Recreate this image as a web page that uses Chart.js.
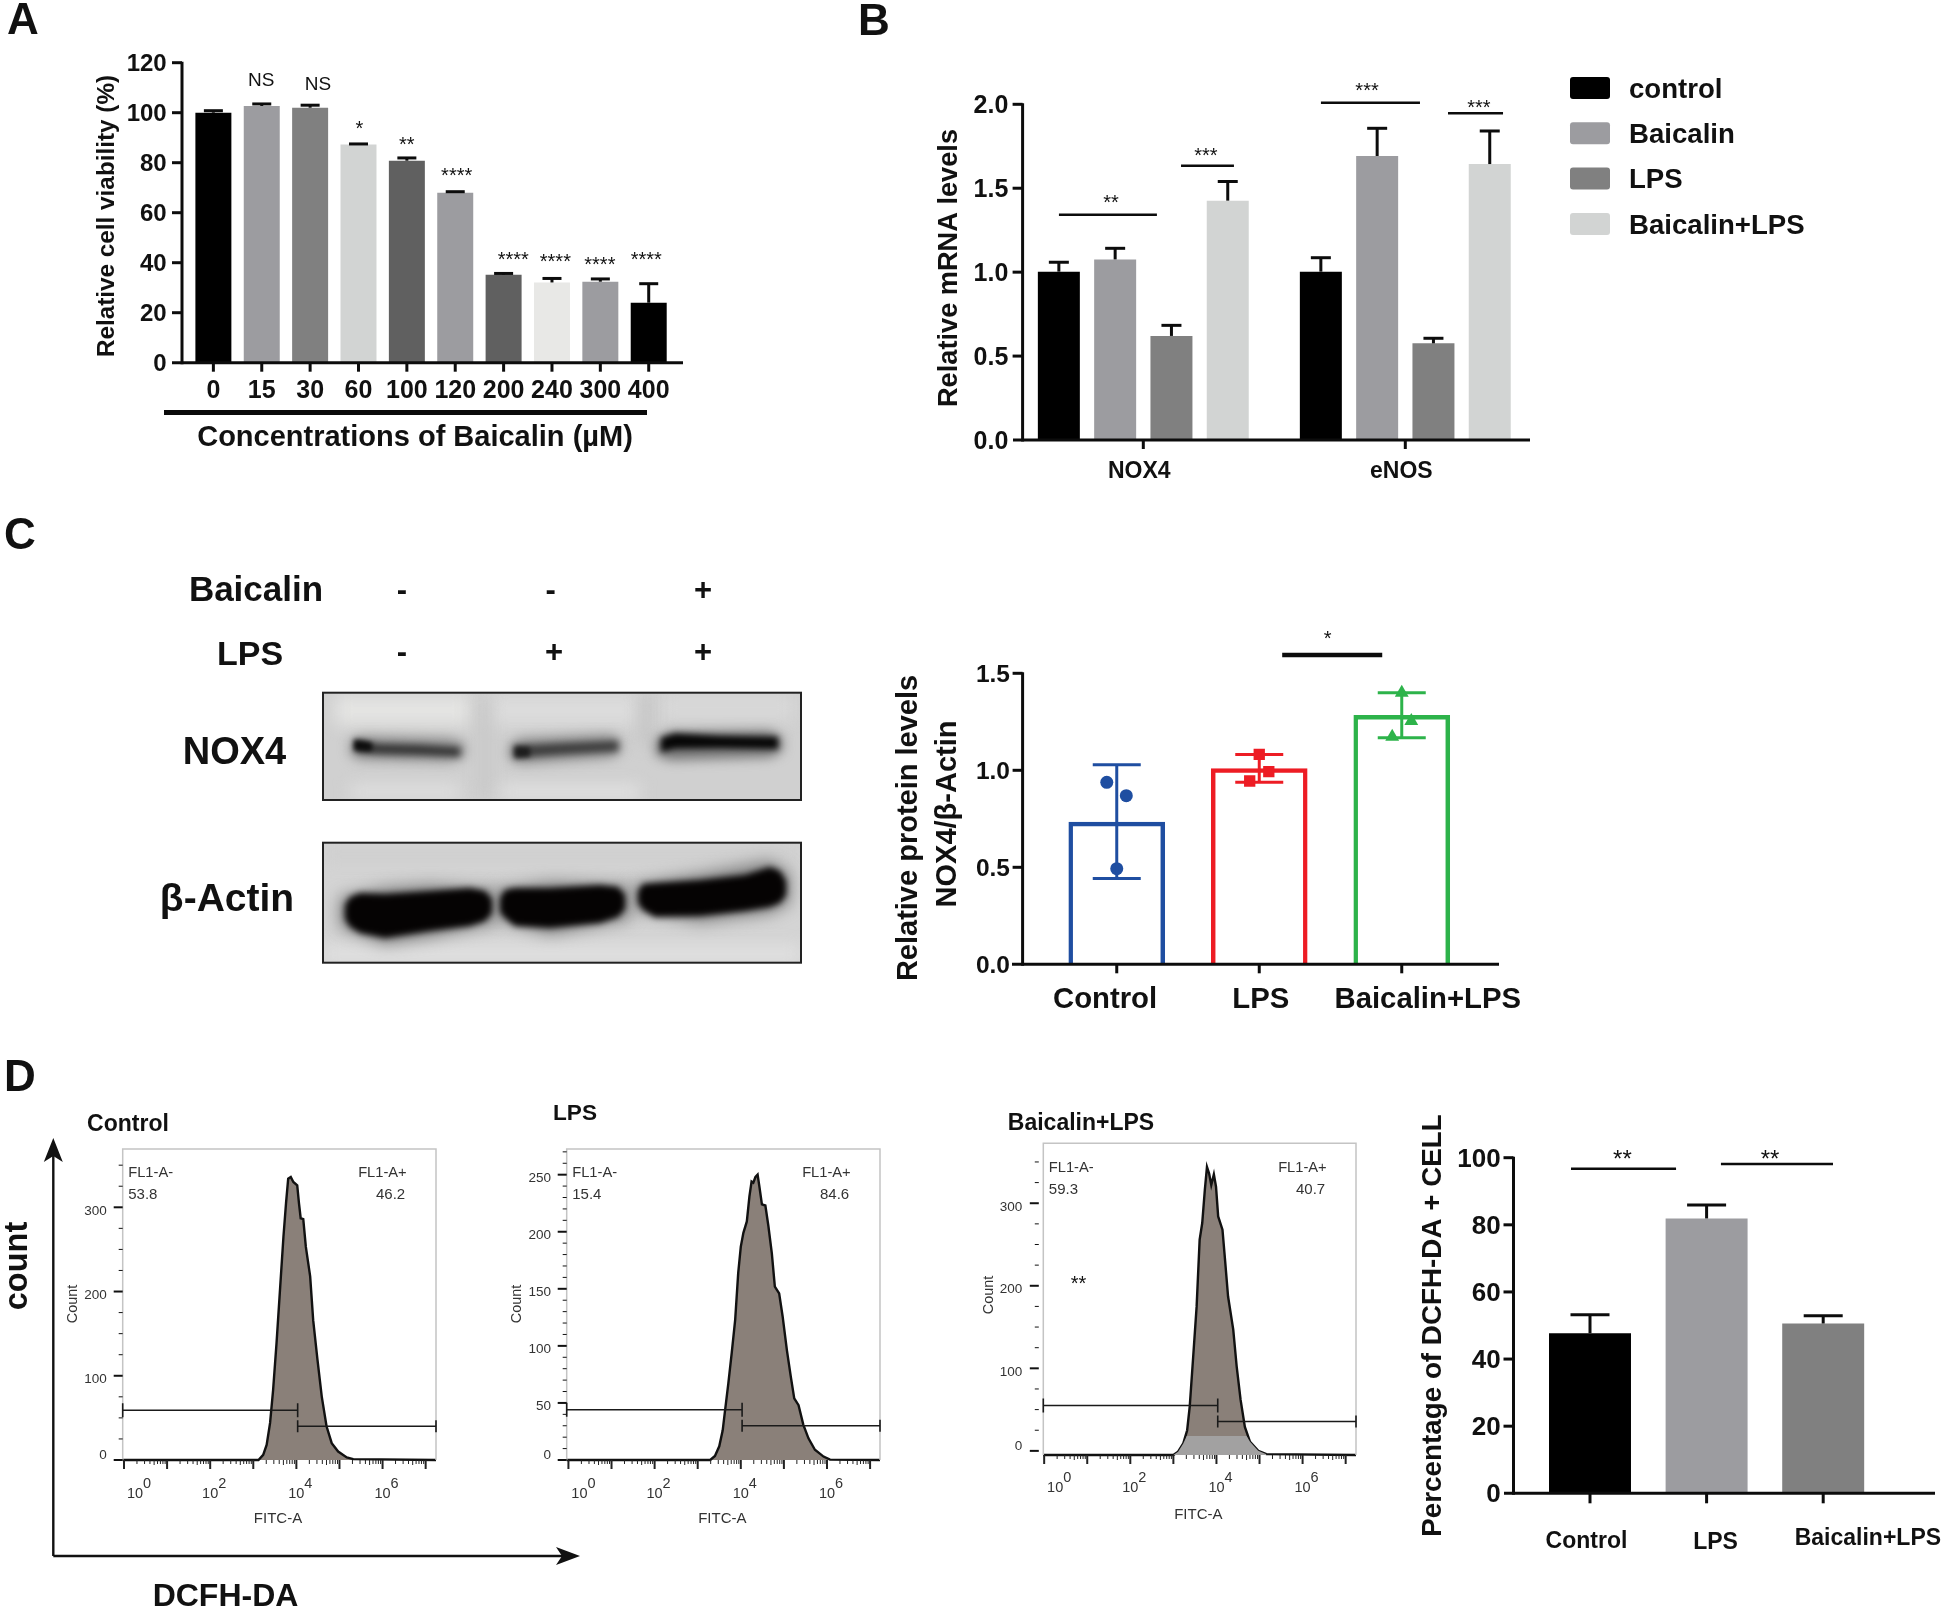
<!DOCTYPE html>
<html><head><meta charset="utf-8">
<script src="https://cdn.jsdelivr.net/npm/chart.js@4"></script>
<style>
html,body{margin:0;padding:0;background:#fff;width:1944px;height:1609px;overflow:hidden}
#fig{position:absolute;left:0;top:0;width:1944px;height:1609px;filter:blur(0.5px)}
#fig canvas{position:absolute;left:0;top:0;pointer-events:none}
.t{position:absolute;white-space:nowrap;line-height:1;color:#111;font-family:"Liberation Sans",Arial,sans-serif;font-weight:bold}
</style></head><body><div id="fig"><canvas id="base" width="1944" height="1609"></canvas></div>
<script>
// ---------- Panel A ----------
const concLabels = ['0','15','30','60','100','120','200','240','300','400'];
const viability = [100,102.7,102,87.3,80.8,68,35.2,32.1,32.4,24];
const viabilityHi = [100.8,103.5,103,87.5,81.9,68.4,35.7,33.7,33.5,31.6];
const viabilityColors = ['#000000','#9c9ca0','#808080','#d2d4d3','#606060','#9c9ca0','#606060','#e8e8e6','#9c9ca0','#000000'];
const viabilitySig = ['','NS','NS','*','**','****','****','****','****','****'];
const viabilitySigIdx = [0,0.99,2.16,3.02,4,5.03,6.2,7.07,7.99,8.95];
const viabilitySigVal = [0,113.3,112,95,88.4,76.3,42.7,41.8,40.7,42.4];
// ---------- Panel B ----------
const geneLabels = ['NOX4','eNOS'];
const groupNames = ['control','Baicalin','LPS','Baicalin+LPS'];
const groupColors = ['#000000','#9c9ca0','#808080','#d2d4d3'];
const mrnaControl = [1.003,1.003];
const mrnaBaicalin = [1.076,1.692];
const mrnaLPS = [0.62,0.576];
const mrnaBoth = [1.426,1.644];
const mrnaControlHi = [1.059,1.086];
const mrnaBaicalinHi = [1.142,1.857];
const mrnaLPSHi = [0.683,0.606];
const mrnaBothHi = [1.54,1.841];
const mrnaSigLines = [[-0.322,0.052,1.342],[0.144,0.346,1.634],[0.678,1.056,2.009],[1.163,1.373,1.946]];
const mrnaSigStars = [['**',-0.123,1.436],['***',0.239,1.716],['***',0.854,2.099],['***',1.281,2.002]];
// ---------- Panel C ----------
const proteinLabels = ['Control','LPS','Baicalin+LPS'];
const proteinMean = [0.735,1.01,1.285];
const proteinHi = [1.029,1.081,1.40];
const proteinLo = [0.442,0.938,1.168];
const proteinColors = ['#1f4ea1','#ed1c24','#2db34a'];
const proteinPtsControl = [[-0.07,0.938],[0.067,0.869],[0,0.493]];
const proteinPtsLPS = [[1,1.082],[1.067,0.993],[0.933,0.945]];
const proteinPtsBoth = [[2,1.40],[2.067,1.254],[1.933,1.173]];
const proteinSigLines = [[1.161,1.863,1.594]];
const proteinSigStars = [['*',1.48,1.697]];
// ---------- Panel D histograms (log10 FITC-A, count) ----------
const controlX = [-0.03,3.12,3.23,3.31,3.39,3.46,3.54,3.62,3.70,3.76,3.81,3.87,3.93,4.02,4.06,4.10,4.16,4.22,4.32,4.39,4.49,4.59,4.70,4.82,4.97,5.17,5.32,7.24];
const controlY = [0,0,6,18,44,83,139,202,265,305,334,336,330,326,305,287,286,253,218,166,119,75,40,20,10,3,1,0];
const lpsX = [-0.04,3.29,3.40,3.50,3.58,3.63,3.71,3.79,3.87,3.94,4.00,4.06,4.14,4.20,4.25,4.29,4.34,4.39,4.43,4.49,4.57,4.64,4.72,4.79,4.89,4.97,5.07,5.16,5.24,5.34,5.45,5.57,5.72,5.92,6.07,7.23];
const lpsY = [0,0,3.5,12,26,42,67,94,123,164,187,199,209,231,244,243,248,250,240,224,223,205,181,152,146,126,96,73,54,48,31,19,9,3,0.3,0];
const bothX = [-0.02,3.00,3.11,3.23,3.32,3.38,3.46,3.54,3.61,3.67,3.73,3.78,3.83,3.88,3.94,3.99,4.04,4.14,4.20,4.27,4.39,4.47,4.56,4.66,4.78,4.97,5.16,7.24];
const bothY = [-5,-5,-1,9,25,54,114,175,256,276,316,344,336,322,335,320,284,268,231,187,147,102,62,29,11,0,-4,-5];
const bothBandX = [3.00,3.11,3.23,3.31,4.70,4.78,4.97,5.16];
const bothBandY = [-5,-1,9,18,18,11,0,-4];
const gateControl = [59,40];
const gateLPS = [44,30];
const gateBoth = [55,35.5];
const gateSplit = 4.03;
const decadeLabels = [0,2,4,6];
// ---------- Panel D bars ----------
const dcfhLabels = ['Control','LPS','Baicalin+LPS'];
const dcfhMean = [47.7,81.9,50.6];
const dcfhHi = [53.2,85.9,52.9];
const dcfhColors = ['#000000','#9c9ca0','#808080'];
const dcfhSigLines = [[-0.163,0.738,96.7],[1.123,2.084,98.1]];
const dcfhSigStars = [['**',0.278,100.6],['**',1.544,100.6]];

const FF = '"Liberation Sans",Arial,sans-serif';
const W = 1944, H = 1609;
const fig = document.getElementById('fig');
Chart.defaults.font.family = FF;
Chart.defaults.color = '#111';

function txt(s, cx, cy, size, opt){
  opt = opt || {};
  const d = document.createElement('div');
  d.className = 't'; d.textContent = s;
  d.style.left = cx + 'px'; d.style.top = cy + 'px';
  d.style.fontSize = size + 'px';
  if (opt.weight) d.style.fontWeight = opt.weight;
  d.style.transform = 'translate(-50%,-50%)' + (opt.rot ? ' rotate(' + opt.rot + 'deg)' : '');
  fig.appendChild(d);
}

function newCanvas(){
  const c = document.createElement('canvas');
  c.width = W; c.height = H;
  fig.appendChild(c);
  return c.getContext('2d');
}

// Lays the plot area out in page pixels
function frameScales(area){
  return {
    fitY: s => { s.width = area.l; },
    fitX: s => { s.height = H - area.b; },
    padding: {left:0, top:area.t, right:W - area.r, bottom:0}
  };
}

// Axis lines, ticks, significance marks, error bars, free labels
const figPlugin = {
  id:'figPlugin',
  afterDraw(chart){
    const o = chart.options.plugins.figPlugin; if (!o) return;
    const ctx = chart.ctx, x = chart.scales.x, y = chart.scales.y;
    ctx.save();
    ctx.strokeStyle = '#0c0c0c'; ctx.fillStyle = '#111'; ctx.lineCap = 'butt';
    // error bars
    (o.err || []).forEach(e => {
      const meta = chart.getDatasetMeta(e.ds);
      ctx.lineWidth = e.w || 3;
      meta.data.forEach((bar, i) => {
        const col = Array.isArray(e.color) ? e.color[i] : e.color;
        ctx.strokeStyle = col || '#0c0c0c';
        const px = bar.x, hi = y.getPixelForValue(e.hi[i]);
        const lo = e.lo ? y.getPixelForValue(e.lo[i]) : y.getPixelForValue(chart.data.datasets[e.ds].data[i]);
        ctx.beginPath(); ctx.moveTo(px, lo); ctx.lineTo(px, hi); ctx.stroke();
        ctx.beginPath(); ctx.moveTo(px - e.cap, hi); ctx.lineTo(px + e.cap, hi); ctx.stroke();
        if (e.lo){ ctx.beginPath(); ctx.moveTo(px - e.cap, lo); ctx.lineTo(px + e.cap, lo); ctx.stroke(); }
      });
    });
    ctx.strokeStyle = '#0c0c0c'; ctx.lineWidth = o.axisW;
    // axes
    ctx.beginPath(); ctx.moveTo(o.axisX, y.top - 1); ctx.lineTo(o.axisX, y.bottom + o.axisW/2); ctx.stroke();
    ctx.beginPath(); ctx.moveTo(o.xFrom, y.bottom); ctx.lineTo(o.xTo, y.bottom); ctx.stroke();
    y.ticks.forEach(t => {
      const p = y.getPixelForValue(t.value);
      if (Math.abs(p - y.bottom) < 1) return;
      ctx.beginPath(); ctx.moveTo(o.axisX - o.yTick, p); ctx.lineTo(o.axisX, p); ctx.stroke();
    });
    x.ticks.forEach((t, i) => {
      const p = x.getPixelForTick(i);
      ctx.beginPath(); ctx.moveTo(p, y.bottom); ctx.lineTo(p, y.bottom + o.xTick); ctx.stroke();
    });
    // significance lines
    (o.sigLines || []).forEach(s => {
      ctx.lineWidth = o.sigW;
      ctx.beginPath();
      const py = y.getPixelForValue(s[2]);
      ctx.moveTo(x.getPixelForValue(s[0]), py); ctx.lineTo(x.getPixelForValue(s[1]), py); ctx.stroke();
    });
    ctx.textAlign = 'center';
    (o.sigStars || []).forEach(s => {
      ctx.font = (s[3] || o.starSize) + 'px ' + FF;
      ctx.textBaseline = 'alphabetic';
      const isStar = s[0].charAt(0) === '*';
      const sz = s[3] || o.starSize;
      ctx.fillText(s[0], x.getPixelForValue(s[1]), y.getPixelForValue(s[2]) + (isStar ? 0.48 : 0.36) * sz);
    });
    // displaced category labels
    if (o.labels){
      ctx.font = 'bold ' + o.labelSize + 'px ' + FF; ctx.textBaseline = 'middle';
      o.labels.forEach((l, i) => ctx.fillText(l, x.getPixelForTick(i) + o.labelDx[i], o.labelY[i]));
    }
    // axis titles placed in page position
    (o.extra || []).forEach(e => {
      ctx.save(); ctx.translate(e.x, e.y); ctx.rotate(-Math.PI/2);
      ctx.font = 'bold ' + e.size + 'px ' + FF; ctx.textBaseline = 'middle';
      ctx.fillText(e.text, 0, 0); ctx.restore();
    });
    // legend
    if (o.legend){
      const L = o.legend;
      L.names.forEach((n, i) => {
        const cy = L.y + i * L.dy;
        ctx.fillStyle = L.colors[i];
        ctx.beginPath(); ctx.roundRect(L.x, cy - L.h/2, L.w, L.h, 3); ctx.fill();
        ctx.fillStyle = '#111'; ctx.textAlign = 'left'; ctx.textBaseline = 'middle';
        ctx.font = 'bold ' + L.size + 'px ' + FF;
        ctx.fillText(n, L.x + L.w + 19, cy + 2);
      });
      ctx.textAlign = 'center';
    }
    ctx.restore();
  }
};

function barChart(cfg){
  const f = frameScales(cfg.area);
  const scales = {
    x:{type:'category', grid:{display:false,drawTicks:false}, border:{display:false}, afterFit:f.fitX,
       ticks:{display:cfg.nativeX!==false, autoSkip:false, maxRotation:0, minRotation:0, padding:cfg.xPad||0, labelOffset:cfg.xOff||0,
              color:'#111', font:{size:cfg.xSize||23,weight:'bold'}}},
    y:{type:'linear', min:cfg.min||0, max:cfg.max, grid:{display:false,drawTicks:false}, border:{display:false}, afterFit:f.fitY,
       ticks:{stepSize:cfg.step, padding:cfg.yPad, labelOffset:2, color:'#111', font:{size:cfg.ySize,weight:'bold'},
              callback:v => cfg.dec ? v.toFixed(cfg.dec) : String(v)},
       title:cfg.title ? {display:true,text:cfg.title,color:'#111',font:{size:cfg.titleSize,weight:'bold',lineHeight:1},padding:{top:cfg.titleX-cfg.titleSize/2,bottom:0}} : {display:false}}
  };
  if (cfg.extraScales) Object.assign(scales, cfg.extraScales);
  new Chart(newCanvas(), {
    type:'bar',
    data:{labels:cfg.labels, datasets:cfg.datasets},
    options:{responsive:false, animation:false, devicePixelRatio:1,
      layout:{autoPadding:false,padding:f.padding},
      scales,
      plugins:{legend:{display:false},tooltip:{enabled:false},figPlugin:cfg.fig}
    },
    plugins:[figPlugin]
  });
}

// A
const sigAStars = viabilitySig.map((s,i)=>[s,viabilitySigIdx[i],viabilitySigVal[i],s==='NS'?19:20]).filter(s=>s[0]);
barChart({
  area:{l:189.2,t:62.7,r:672.9,b:362.7}, labels:concLabels, max:120, step:20, yPad:22.5, ySize:24, xPad:13, xSize:25,
  datasets:[{data:viability, backgroundColor:viabilityColors, barPercentage:0.744, categoryPercentage:1}],
  fig:{axisX:182,axisW:3,xFrom:172,xTo:683,yTick:10,xTick:9,starSize:20,sigStars:sigAStars,
       err:[{ds:0,hi:viabilityHi,cap:9.5,w:3}],
       extra:[{text:'Relative cell viability (%)',x:107,y:216,size:24.3}]}
});
// B
const mrnaSets = [mrnaControl,mrnaBaicalin,mrnaLPS,mrnaBoth];
const mrnaHi = [mrnaControlHi,mrnaBaicalinHi,mrnaLPSHi,mrnaBothHi];
barChart({
  area:{l:1012.3,t:104.3,r:1536.3,b:440}, labels:geneLabels, max:2, step:0.5, dec:1, yPad:4, ySize:25, xPad:18, xSize:23, xOff:-4,
  datasets:mrnaSets.map((d,i)=>({label:groupNames[i],data:d,backgroundColor:groupColors[i],barPercentage:0.746,categoryPercentage:0.8595})),
  fig:{axisX:1022.6,axisW:3,xFrom:1013,xTo:1530,yTick:10,xTick:9,sigW:2.5,starSize:20,
       sigLines:mrnaSigLines,sigStars:mrnaSigStars,
       err:mrnaHi.map((h,i)=>({ds:i,hi:h,cap:10,w:3})),
       extra:[{text:'Relative mRNA levels',x:950,y:268,size:27.2}],
       legend:{names:groupNames,colors:groupColors,x:1570,y:88,dy:45.3,w:40,h:22,size:27.6}}
});
// C
function pts(a){return a.map(p=>({x:p[0],y:p[1]}));}
const ptShapes = ['circle','rect','triangle'];
const ptRadius = [6.5,8,8];
barChart({
  area:{l:1045.5,t:673.3,r:1473,b:964.3}, labels:proteinLabels, nativeX:false, max:1.5, step:0.5, dec:1, yPad:35.5, ySize:24.5,
  datasets:[
    {type:'scatter',xAxisID:'xp',data:pts(proteinPtsControl),pointStyle:ptShapes[0],pointRadius:ptRadius[0],backgroundColor:proteinColors[0],borderWidth:0,order:0},
    {type:'scatter',xAxisID:'xp',data:pts(proteinPtsLPS),pointStyle:ptShapes[1],pointRadius:ptRadius[1],backgroundColor:proteinColors[1],borderWidth:0,order:0},
    {type:'scatter',xAxisID:'xp',data:pts(proteinPtsBoth),pointStyle:ptShapes[2],pointRadius:ptRadius[2],backgroundColor:proteinColors[2],borderWidth:0,order:0},
    {data:proteinMean,backgroundColor:'rgba(255,255,255,0)',borderColor:proteinColors,borderWidth:4.5,borderSkipped:'bottom',barPercentage:0.678,categoryPercentage:1,grouped:false,order:1}
  ],
  extraScales:{xp:{type:'linear',min:-0.5,max:2.5,offset:false,display:false}},
  fig:{axisX:1022.6,axisW:3,xFrom:1012,xTo:1499,yTick:10,xTick:9,sigW:4.5,starSize:20,
       sigLines:proteinSigLines,sigStars:proteinSigStars,
       err:[{ds:3,hi:proteinHi,lo:proteinLo,cap:24,w:3,color:proteinColors}],
       labels:proteinLabels,labelSize:29.3,labelDx:[-11.7,1.6,26],labelY:[1000,1000,1000],
       extra:[{text:'Relative protein levels',x:909,y:828,size:29},{text:'NOX4/\u03b2-Actin',x:948,y:814,size:29}]}
});
// D bars
barChart({
  area:{l:1531.7,t:1157.7,r:1881.5,b:1493.3}, labels:dcfhLabels, nativeX:false, max:100, step:20, yPad:31, ySize:26,
  title:'Percentage of DCFH-DA + CELL', titleSize:27.8, titleX:1433,
  datasets:[{data:dcfhMean,backgroundColor:dcfhColors,barPercentage:0.703,categoryPercentage:1}],
  fig:{axisX:1513.5,axisW:3,xFrom:1504,xTo:1935,yTick:10,xTick:10,sigW:2.5,starSize:24,
       sigLines:dcfhSigLines,sigStars:dcfhSigStars,
       err:[{ds:0,hi:dcfhHi,cap:19.5,w:3}],
       labels:dcfhLabels,labelSize:23,labelDx:[-3.5,9,44.7],labelY:[1541.5,1542.5,1539]}
});

// Flow histograms
const flowPlugin = {
  id:'flowPlugin',
  afterDraw(chart){
    const o = chart.options.plugins.flowPlugin;
    const ctx = chart.ctx, x = chart.scales.x, y = chart.scales.y, a = chart.chartArea;
    ctx.save();
    ctx.lineCap = 'butt';
    // frame
    ctx.strokeStyle = '#c4c4c4'; ctx.lineWidth = 1.5;
    ctx.beginPath(); ctx.moveTo(a.left,a.bottom); ctx.lineTo(a.left,a.top); ctx.lineTo(a.right,a.top); ctx.lineTo(a.right,a.bottom); ctx.stroke();
    // y ticks and their labels
    ctx.textAlign = 'right'; ctx.textBaseline = 'middle'; ctx.font = '13.5px ' + FF;
    y.ticks.forEach(t => {
      const p = y.getPixelForValue(t.value), maj = t.value % o.major === 0;
      ctx.strokeStyle = '#111';
      ctx.lineWidth = maj ? 2 : 1;
      ctx.beginPath(); ctx.moveTo(a.left - o.gap - (maj ? 9 : 4), p); ctx.lineTo(a.left - o.gap, p); ctx.stroke();
      if (maj || (o.major === 50 && t.value % 50 === 0)){
        ctx.fillStyle = '#333';
        ctx.fillText(String(t.value), a.left - o.yPad, p + (t.value === 0 ? -4.5 : 3.7));
      }
    });
    // x ticks (log decades)
    ctx.strokeStyle = '#222';
    for (let d = 0; d <= 7; d++){
      for (let m = 1; m <= 9; m++){
        const v = d + Math.log10(m);
        if (v > x.max) continue;
        const p = x.getPixelForValue(v), maj = m === 1;
        ctx.lineWidth = maj ? 2 : 1;
        ctx.beginPath(); ctx.moveTo(p, a.bottom); ctx.lineTo(p, a.bottom + (maj ? 9 : (m === 5 ? 5 : 4))); ctx.stroke();
      }
    }
    // gates
    ctx.strokeStyle = '#1a1a1a'; ctx.lineWidth = 1.6;
    const split = x.getPixelForValue(gateSplit), yl = y.getPixelForValue(o.gates[0]), yr = y.getPixelForValue(o.gates[1]);
    ctx.beginPath();
    ctx.moveTo(a.left, yl); ctx.lineTo(split, yl);
    ctx.moveTo(a.left, yl - 7); ctx.lineTo(a.left, yl + 7);
    ctx.moveTo(split, yl - 7); ctx.lineTo(split, yl + 7);
    ctx.moveTo(split, yr); ctx.lineTo(a.right, yr);
    ctx.moveTo(split, yr - 6); ctx.lineTo(split, yr + 6);
    ctx.moveTo(a.right, yr - 6); ctx.lineTo(a.right, yr + 6);
    ctx.stroke();
    // labels
    ctx.fillStyle = '#333'; ctx.textBaseline = 'middle';
    ctx.font = '14.7px ' + FF;
    ctx.textAlign = 'left';
    ctx.fillText('FL1-A-', a.left + 5.5, o.textY[0]);
    ctx.font = '15px ' + FF;
    ctx.fillText(o.neg, a.left + 5.5, o.textY[1]);
    ctx.textAlign = 'right';
    ctx.font = '14.7px ' + FF;
    ctx.fillText('FL1-A+', o.posRight, o.textY[0]);
    ctx.font = '15px ' + FF;
    ctx.fillText(o.pos, o.posRight - 1.5, o.textY[1]);
    ctx.textAlign = 'center';
    decadeLabels.forEach(d => {
      const p = x.getPixelForValue(d) + (d === 0 ? 11 : 0);
      ctx.font = '14.5px ' + FF; ctx.fillText('10', p, o.decY);
      ctx.fillText(String(d), p + 12, o.decY - 10);
    });
    ctx.font = '15px ' + FF;
    ctx.fillText('FITC-A', o.fitcX, o.fitcY);
    ctx.save(); ctx.translate(o.countX, o.countY); ctx.rotate(-Math.PI/2);
    ctx.font = '14.5px ' + FF; ctx.fillText('Count', 0, 0); ctx.restore();
    ctx.restore();
  }
};
function zip(a,b){return a.map((v,i)=>({x:v,y:b[i]}));}
function flowChart(c){
  const f = frameScales(c.area);
  const sets = [{data:zip(c.xs,c.ys),borderColor:'#111',borderWidth:2.4,backgroundColor:'#8a8079',fill:'start',pointRadius:0,tension:0,clip:false,order:1}];
  if (c.band) sets.push({data:zip(c.band[0],c.band[1]),borderWidth:0,backgroundColor:'#a2a1a1',fill:'start',pointRadius:0,tension:0,order:0});
  new Chart(newCanvas(), {
    type:'line',
    data:{datasets:sets},
    options:{responsive:false,animation:false,devicePixelRatio:1,
      layout:{autoPadding:false,padding:f.padding},
      scales:{
        x:{type:'linear',min:c.xmin,max:c.xmax,grid:{display:false,drawTicks:false},border:{display:false},afterFit:f.fitX,ticks:{display:false}},
        y:{type:'linear',min:c.ymin,max:c.ymax,grid:{display:false,drawTicks:false},border:{display:false},afterFit:f.fitY,
           ticks:{display:false,stepSize:c.minor,autoSkip:false,includeBounds:false,maxTicksLimit:100}}
      },
      plugins:{legend:{display:false},tooltip:{enabled:false},flowPlugin:{major:c.labelEvery,yPad:c.yPad,gap:c.gap,gates:c.gates,textY:c.textY,neg:c.neg,pos:c.pos,posRight:c.posRight,decY:c.decY,fitcX:c.fitcX,fitcY:c.fitcY,countX:c.countX,countY:c.countY}}
    },
    plugins:[flowPlugin]
  });
}
flowChart({area:{l:122.7,t:1149,r:436,b:1460},xs:controlX,ys:controlY,xmin:-0.03,xmax:7.24,ymin:0,ymax:369.2,minor:25,labelEvery:100,yPad:16,gap:0,
  gates:gateControl,textY:[1172.5,1195],neg:'53.8',pos:'46.2',posRight:406.7,decY:1494,fitcX:278,fitcY:1519.3,countX:73.3,countY:1304});
flowChart({area:{l:566.7,t:1149,r:880,b:1460},xs:lpsX,ys:lpsY,xmin:-0.04,xmax:7.23,ymin:0,ymax:272.5,minor:10,labelEvery:50,yPad:15.7,gap:0,
  gates:gateLPS,textY:[1172.5,1195],neg:'15.4',pos:'84.6',posRight:850.7,decY:1494,fitcX:722.3,fitcY:1519.3,countX:517.3,countY:1304});
flowChart({area:{l:1043.3,t:1143.3,r:1356,b:1455},xs:bothX,ys:bothY,band:[bothBandX,bothBandY],xmin:-0.02,xmax:7.24,ymin:-5,ymax:372.6,minor:25,labelEvery:100,yPad:21,gap:4.5,
  gates:gateBoth,textY:[1168,1190],neg:'59.3',pos:'40.7',posRight:1326.7,decY:1488,fitcX:1198.3,fitcY:1515,countX:989,countY:1295});

// ---------- static figure parts: western blots, arrows, labels ----------
const g = document.getElementById('base').getContext('2d');
function blot(x,y,w,h,bg,lanes,bands){
  g.save();
  g.beginPath(); g.rect(x,y,w,h); g.clip();
  g.fillStyle = bg; g.fillRect(x,y,w,h);
  g.filter = 'blur(8px)';
  lanes.forEach(l => { g.fillStyle = l[4]; g.fillRect(l[0],l[1],l[2],l[3]); });
  bands.forEach(b => {
    g.filter = 'blur(' + b.blur + 'px)';
    g.fillStyle = b.color;
    g.beginPath();
    const top = b.pts.map(p => [p[0], p[1] - p[2]/2]);
    const bot = b.pts.map(p => [p[0], p[1] + p[2]/2]).reverse();
    g.moveTo(top[0][0], top[0][1]);
    top.forEach(p => g.lineTo(p[0], p[1]));
    bot.forEach(p => g.lineTo(p[0], p[1]));
    g.closePath(); g.fill();
  });
  g.restore();
  g.strokeStyle = '#222'; g.lineWidth = 2; g.strokeRect(x,y,w,h);
}
blot(323,692.7,478,107.3,'#d0d0d0',
  [[335,695,135,30,'#e4e4e2'],[490,695,150,30,'#dcdcdc'],[660,695,135,25,'#d8d8d8'],[480,700,10,95,'#c6c6c6'],[640,695,10,50,'#c2c2c2'],[350,785,110,14,'#e0e0e0'],[500,785,140,14,'#e2e2e2']],
  [{blur:6,color:'#8c8c8c',pts:[[350,748,14],[360,748,24],[450,750,24],[465,750,14]]},
   {blur:3.5,color:'#333',pts:[[356,746,12],[378,749,10],[420,750,10],[460,752,9]]},
   {blur:2.5,color:'#0c0c0c',pts:[[354,745,11],[372,747,8]]},
   {blur:6,color:'#8c8c8c',pts:[[509,752,14],[520,751,26],[610,746,24],[621,746,14]]},
   {blur:3.5,color:'#3c3c3c',pts:[[514,752,12],[560,749,11],[618,746,10]]},
   {blur:2.5,color:'#1c1c1c',pts:[[515,752,11],[530,752,9]]},
   {blur:6,color:'#707070',pts:[[656,747,16],[670,746,28],[770,744,26],[782,744,14]]},
   {blur:3,color:'#060606',pts:[[661,745,14],[675,741,15],[720,742,12],[778,743,12]]}]);
blot(323,842.7,478,120,'#d4d4d4',[[323,945,478,18,'#e0e0e0'],[323,845,478,18,'#cfcfcf']],
  [{blur:8,color:'#7c7c7c',pts:[[340,912,30],[385,916,56],[430,911,52],[496,906,34]]},
   {blur:8,color:'#7c7c7c',pts:[[496,904,30],[550,908,52],[630,902,34]]},
   {blur:8,color:'#7c7c7c',pts:[[634,897,26],[700,898,48],[770,887,52],[790,888,30]]},
   {blur:3,color:'#050303',pts:[[345,912,14],[350,912,30],[360,913,40],[385,916,44],[430,911,40],[470,907,38],[485,906,30],[492,906,14]]},
   {blur:3,color:'#050303',pts:[[500,905,14],[505,904,28],[515,907,38],[550,908,40],[600,904,38],[618,902,30],[625,902,14]]},
   {blur:3,color:'#050303',pts:[[638,897,12],[643,897,26],[655,900,34],[700,898,36],[745,893,36],[770,887,40],[780,887,32],[786,888,14]]}]);
// arrows
g.strokeStyle = '#111'; g.fillStyle = '#111'; g.lineWidth = 2.4;
g.beginPath(); g.moveTo(53.3,1556); g.lineTo(53.3,1150); g.stroke();
g.beginPath(); g.moveTo(53.3,1138); g.lineTo(62.8,1162); g.lineTo(53.3,1156); g.lineTo(43.8,1162); g.closePath(); g.fill();
g.beginPath(); g.moveTo(53.3,1556); g.lineTo(570,1556); g.stroke();
g.beginPath(); g.moveTo(580,1556); g.lineTo(556,1547); g.lineTo(562,1556); g.lineTo(556,1565); g.closePath(); g.fill();

// labels outside the plots
txt('A',23,19,44); txt('B',874,20,44); txt('C',20,534,44); txt('D',20,1076,44);
txt('Concentrations of Baicalin (\u00b5M)',415,436,29);
g.fillStyle='#0a0a0a'; g.fillRect(164,410,483,5);
txt('Baicalin',256,588,35); txt('LPS',250,653,34);
txt('NOX4',234.5,750.5,38); txt('\u03b2-Actin',227,897,39);
const blotSigns = [['-',402,589],['-',550.6,589],['+',703,589],['-',402,650.5],['+',554,650.5],['+',703,650.5]];
blotSigns.forEach(s=>txt(s[0],s[1],s[2],31));
txt('count',16,1266,32.5,{rot:-90}); txt('DCFH-DA',225.5,1595,32);
txt('Control',128,1123,23); txt('LPS',575,1112.7,22.6); txt('Baicalin+LPS',1081,1121.7,23);
txt('**',1078.5,1283,20,{weight:'normal'});
</script></body></html>
